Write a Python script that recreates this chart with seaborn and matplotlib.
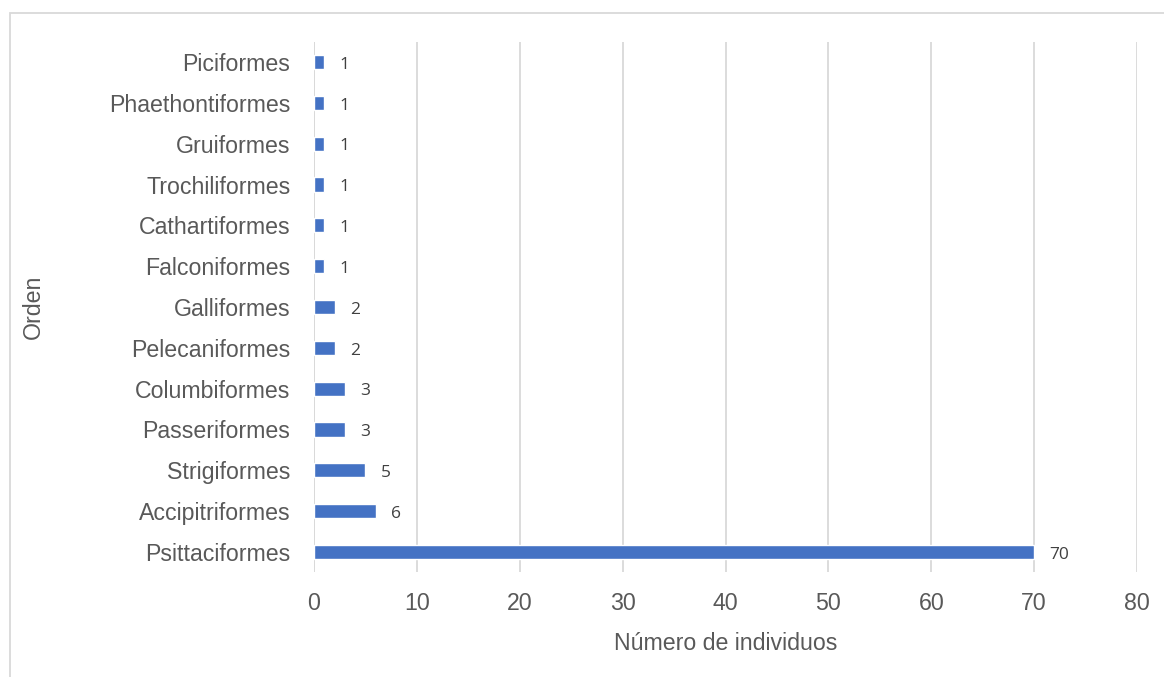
import matplotlib
matplotlib.use("Agg")
import matplotlib.pyplot as plt
import matplotlib.patches as patches
import pandas as pd
import seaborn as sns

# datos
ordenes = ["Piciformes", "Phaethontiformes", "Gruiformes", "Trochiliformes",
           "Cathartiformes", "Falconiformes", "Galliformes", "Pelecaniformes",
           "Columbiformes", "Passeriformes", "Strigiformes", "Accipitriformes",
           "Psittaciformes"]
individuos = [1, 1, 1, 1, 1, 1, 2, 2, 3, 3, 5, 6, 70]
xticks = [0, 10, 20, 30, 40, 50, 60, 70, 80]

df = pd.DataFrame({"orden": ordenes, "n": individuos})

sns.set_theme(style="white")
plt.rcParams["font.family"] = ["Liberation Sans", "DejaVu Sans"]

gris = "#595959"
fs = 16.7
fig = plt.figure(figsize=(11.64, 6.77), dpi=100)
ax = fig.add_axes([314 / 1164, 1 - 572.4 / 677, (1137 - 314) / 1164, 530.8 / 677])

sns.barplot(data=df, x="n", y="orden", color="#4472C4", width=0.35,
            saturation=1, ax=ax, orient="h")

etiquetas = ax.bar_label(ax.containers[0], padding=11, fontsize=12.5, color="#404040",
                         family=["Open Sans", "DejaVu Sans"])
for t in etiquetas:
    t.set_y(-2)

ax.set_xlim(0, 80)
ax.set_ylim(12.5, -0.5)
ax.set_xticks(xticks)
ax.xaxis.grid(True, color="#D9D9D9", linewidth=1.3)
ax.set_axisbelow(True)
for s in ax.spines.values():
    s.set_visible(False)
ax.axvline(0, color="#D9D9D9", linewidth=1.3, zorder=0)

ax.tick_params(axis="both", length=0, labelsize=fs, labelcolor=gris)
ax.tick_params(axis="x", pad=14)
ax.tick_params(axis="y", pad=17)
ax.set_xlabel("Número de individuos", fontsize=fs, color=gris, labelpad=12)
ax.set_ylabel("Orden", fontsize=fs, color=gris, labelpad=0)
ax.yaxis.set_label_coords(-(314 - 45) / 823, 0.5)

# marco del gráfico
fig.patches.append(patches.Rectangle((10 / 1164, -0.1), 1.2, 1 - 13 / 677 + 0.1,
                                     transform=fig.transFigure, fill=False,
                                     edgecolor="#D9D9D9", linewidth=1.3))

fig.savefig("out.png", dpi=100)
